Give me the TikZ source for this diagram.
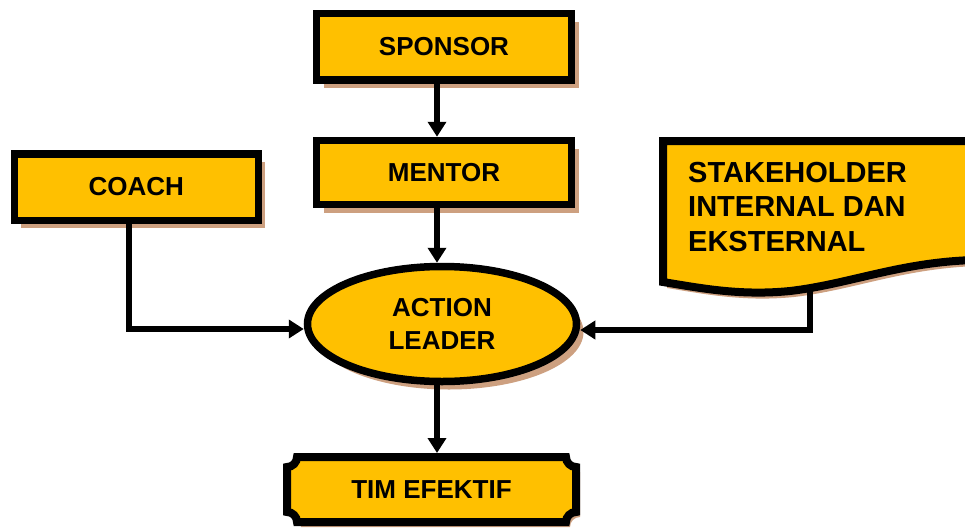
\documentclass[tikz,border=0pt]{standalone}
\usepackage{fontspec}
\setmainfont{Liberation Sans}
\usetikzlibrary{shapes.geometric,shadows,arrows.meta}
\definecolor{gold}{RGB}{255,192,0}
\definecolor{shadowtan}{RGB}{205,160,128}
\tikzset{
  box/.style={rectangle,draw,line width=7.5pt,fill=gold,font=\bfseries\fontsize{26}{30}\selectfont,
    drop shadow={shadow xshift=7pt,shadow yshift=-8pt,fill=shadowtan,opacity=1}},
  link/.style={->,line width=6pt}
}

\begin{document}
\begin{tikzpicture}[x=1pt,y=-1pt,>={Triangle[length=15pt,width=18pt]}]
      \useasboundingbox (0,0) rectangle (965,527);

      \node[box,minimum width=255pt,minimum height=66pt] (S) at (444,46.75) {SPONSOR};
      \node[box,minimum width=255pt,minimum height=64pt] (M) at (444,172.5) {MENTOR};
      \node[box,minimum width=244pt,minimum height=66.5pt] (C) at (136.25,187) {COACH};
      \node[box,ellipse,align=center,minimum width=269pt,minimum height=115pt,
        font=\bfseries\fontsize{26}{33}\selectfont] (L) at (442,324) {ACTION\\LEADER};

      \fill[shadowtan,shift={(4,6)}] (663,141) -- (975,141) -- (975,260)
        .. controls (900,262) and (850,284) .. (790,291)
        .. controls (740,296) and (700,288) .. (663,282) -- cycle;
      \draw[line width=8pt,fill=gold] (663,141) -- (975,141) -- (975,260)
        .. controls (900,262) and (850,284) .. (790,291)
        .. controls (740,296) and (700,288) .. (663,282) -- cycle;
      \node[anchor=north west,inner sep=0pt,align=left,
        font=\bfseries\fontsize{29}{34.5}\selectfont] (K) at (688,162) {STAKEHOLDER\\INTERNAL DAN\\EKSTERNAL};
      \coordinate (Kb) at (810,290);

      \fill[shadowtan,shift={(4,5)}] (297,457) -- (566,457) .. controls (566,462.5) and (570.5,467) .. (576,467)
        -- (576,512) .. controls (570.5,512) and (566,516.5) .. (566,522)
        -- (297,522) .. controls (297,516.5) and (292.5,512) .. (287,512)
        -- (287,467) .. controls (292.5,467) and (297,462.5) .. (297,457) -- cycle;
      \draw[line width=8pt,fill=gold] (297,457) -- (566,457) .. controls (566,462.5) and (570.5,467) .. (576,467)
        -- (576,512) .. controls (570.5,512) and (566,516.5) .. (566,522)
        -- (297,522) .. controls (297,516.5) and (292.5,512) .. (287,512)
        -- (287,467) .. controls (292.5,467) and (297,462.5) .. (297,457) -- cycle;
      \node[minimum width=289pt,minimum height=65pt,outer sep=4pt,
        font=\bfseries\fontsize{26}{30}\selectfont] (T) at (431.5,489.5) {TIM EFEKTIF};

      \draw[link] ([xshift=-7pt]S.south) -- ([xshift=-7pt]S.south |- M.north);
      \draw[link] ([xshift=-7pt]M.south) -- ([xshift=-7pt]M.south |- L.north);
      \draw[link] ([xshift=-7pt]C.south) |- ([yshift=-5pt]L.west);
      \draw[link] (Kb) |- ([yshift=-6pt]L.east);
      \draw[link] ([xshift=-5pt]L.south) -- ([xshift=-5pt]L.south |- T.north);
    \end{tikzpicture}
\end{document}
